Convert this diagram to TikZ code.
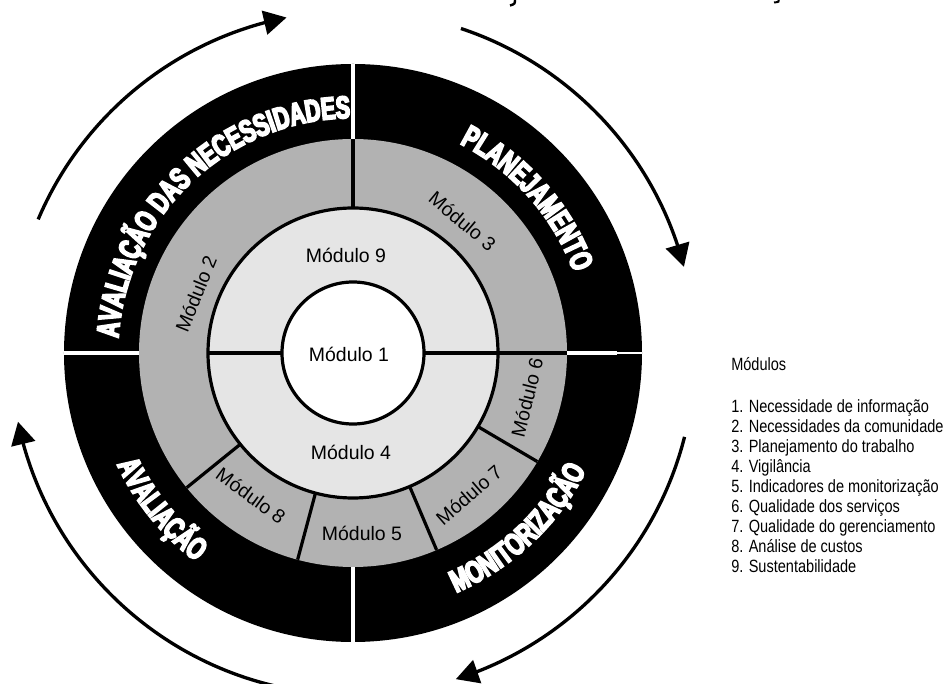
\documentclass[tikz,border=0pt]{standalone}
\usepackage{fontspec}
\setmainfont{Liberation Sans}
\newfontfamily\ringfont[FakeStretch=0.68]{Liberation Sans Bold}
\newfontfamily\legfont[FakeStretch=0.82]{Liberation Sans}
\usetikzlibrary{decorations.text,arrows.meta,bending}
\newcommand\ringstyle{\ringfont\fontsize{23.5}{23.5}\selectfont\special{pdf:literal direct 1 1 1 RG 2 Tr 1.3 w}}
\definecolor{midgray}{gray}{0.70}
\definecolor{palegray}{gray}{0.90}
\begin{document}
\begin{tikzpicture}[x=0.75pt,y=0.75pt,
  blk/.style={line width=2.4pt,black},
  wl/.style={line width=2.6pt,white},
  arr/.style={line width=2.5pt,-{Triangle[length=17pt,width=18pt]}},
  mod/.style={font=\fontsize{14.6}{17}\selectfont,inner sep=0pt},
  leg/.style={font=\legfont\fontsize{13.3}{15}\selectfont,inner sep=0pt,anchor=base west}]
\useasboundingbox (-353,-331) rectangle (593,353);
\clip (-353,-331) rectangle (593,353);
% rings
\fill[black] (0,0) circle (289);
\fill[midgray] (0,0) circle (214);
\fill[palegray] (0,0) circle (145);
\fill[white] (0,0) circle (71);
\draw[blk] (0,0) circle (145);
\draw[blk] (0,0) circle (71);
% dividers in grey ring
\foreach \a in {90,0,219,255,293,329.5} \draw[blk] (\a:145) -- (\a:214);
\draw[blk] (180:71) -- (180:145);
\draw[blk] (0:71) -- (0:145);
% white separators in black ring
\foreach \a in {90,180,270} \draw[wl] (\a:214) -- (\a:289);
\draw[white,line width=3pt] (0:214) -- (0:264);
\draw[white,line width=2.2pt] (0:264) -- (0:289);
% ring texts
\begin{scope}
\path[decorate,decoration={text along path,text align=center,text color=white,
  text={|\ringstyle|AVALIAÇÃO DAS NECESSIDADES}}]
  (193.5:235) arc[start angle=193.5,end angle=73.5,radius=235];
\path[decorate,decoration={text along path,text align=center,text color=white,
  text={|\ringstyle|PLANEJAMENTO}}]
  (101.5:235) arc[start angle=101.5,end angle=-18.5,radius=235];
\path[decorate,decoration={text along path,text align=center,text color=white,
  text={|\ringstyle|MONITORIZAÇÃO}}]
  (-106.7:261) arc[start angle=-106.7,end angle=13.3,radius=261];
\path[decorate,decoration={text along path,text align=center,text color=white,
  text={|\ringstyle|AVALIAÇÃO}}]
  (159.2:261) arc[start angle=159.2,end angle=279.2,radius=261];
\end{scope}
% module labels
\node[mod] (m1) at (-4,-1) {Módulo 1};
\node[mod] (m9) at (-7,98) {Módulo 9};
\node[mod] (m4) at (-2,-99) {Módulo 4};
\node[mod] (m5) at (9,-180) {Módulo 5};
\node[mod,rotate=68] (m2) at (-157,59) {Módulo 2};
\node[mod,rotate=-40] (m3) at (109.5,132) {Módulo 3};
\node[mod,rotate=76] (m6) at (174,-44.6) {Módulo 6};
\node[mod,rotate=41] (m7) at (116,-142) {Módulo 7};
\node[mod,rotate=-36] (m8) at (-102,-142.7) {Módulo 8};
% outer arrows
\coordinate (a1s) at (157:342);
\coordinate (a2s) at (71.6:342);
\coordinate (a3s) at (-14.2:342);
\coordinate (a4s) at (262:342);
\draw[arr] (a1s) arc[start angle=157,end angle=101.2,radius=342];
\draw[arr] (a2s) arc[start angle=71.6,end angle=14.6,radius=342];
\draw[arr] (a3s) arc[start angle=-14.2,end angle=-72.5,radius=342];
\draw[arr] (a4s) arc[start angle=262,end angle=191.6,radius=342];
% legend
\node[leg] (legt) at (378,-18) {Módulos};
\node[leg] (l1) at (378,-60) {1. Necessidade de informação};
\node[leg] (l2) at (378,-80) {2. Necessidades da comunidade};
\node[leg] (l3) at (378,-100) {3. Planejamento do trabalho};
\node[leg] (l4) at (378,-120) {4. Vigilância};
\node[leg] (l5) at (378,-140) {5. Indicadores de monitorização};
\node[leg] (l6) at (378,-160) {6. Qualidade dos serviços};
\node[leg] (l7) at (378,-180) {7. Qualidade do gerenciamento};
\node[leg] (l8) at (378,-200) {8. Análise de custos};
\node[leg] (l9) at (378,-220) {9. Sustentabilidade};
% cropped title fragments at top edge
\draw[line width=1.8pt] (162,354) .. controls (162,349) .. (157,347.5);
\draw[line width=1.5pt] (426,354) .. controls (426,351) .. (421,350.5);
\end{tikzpicture}
\end{document}
